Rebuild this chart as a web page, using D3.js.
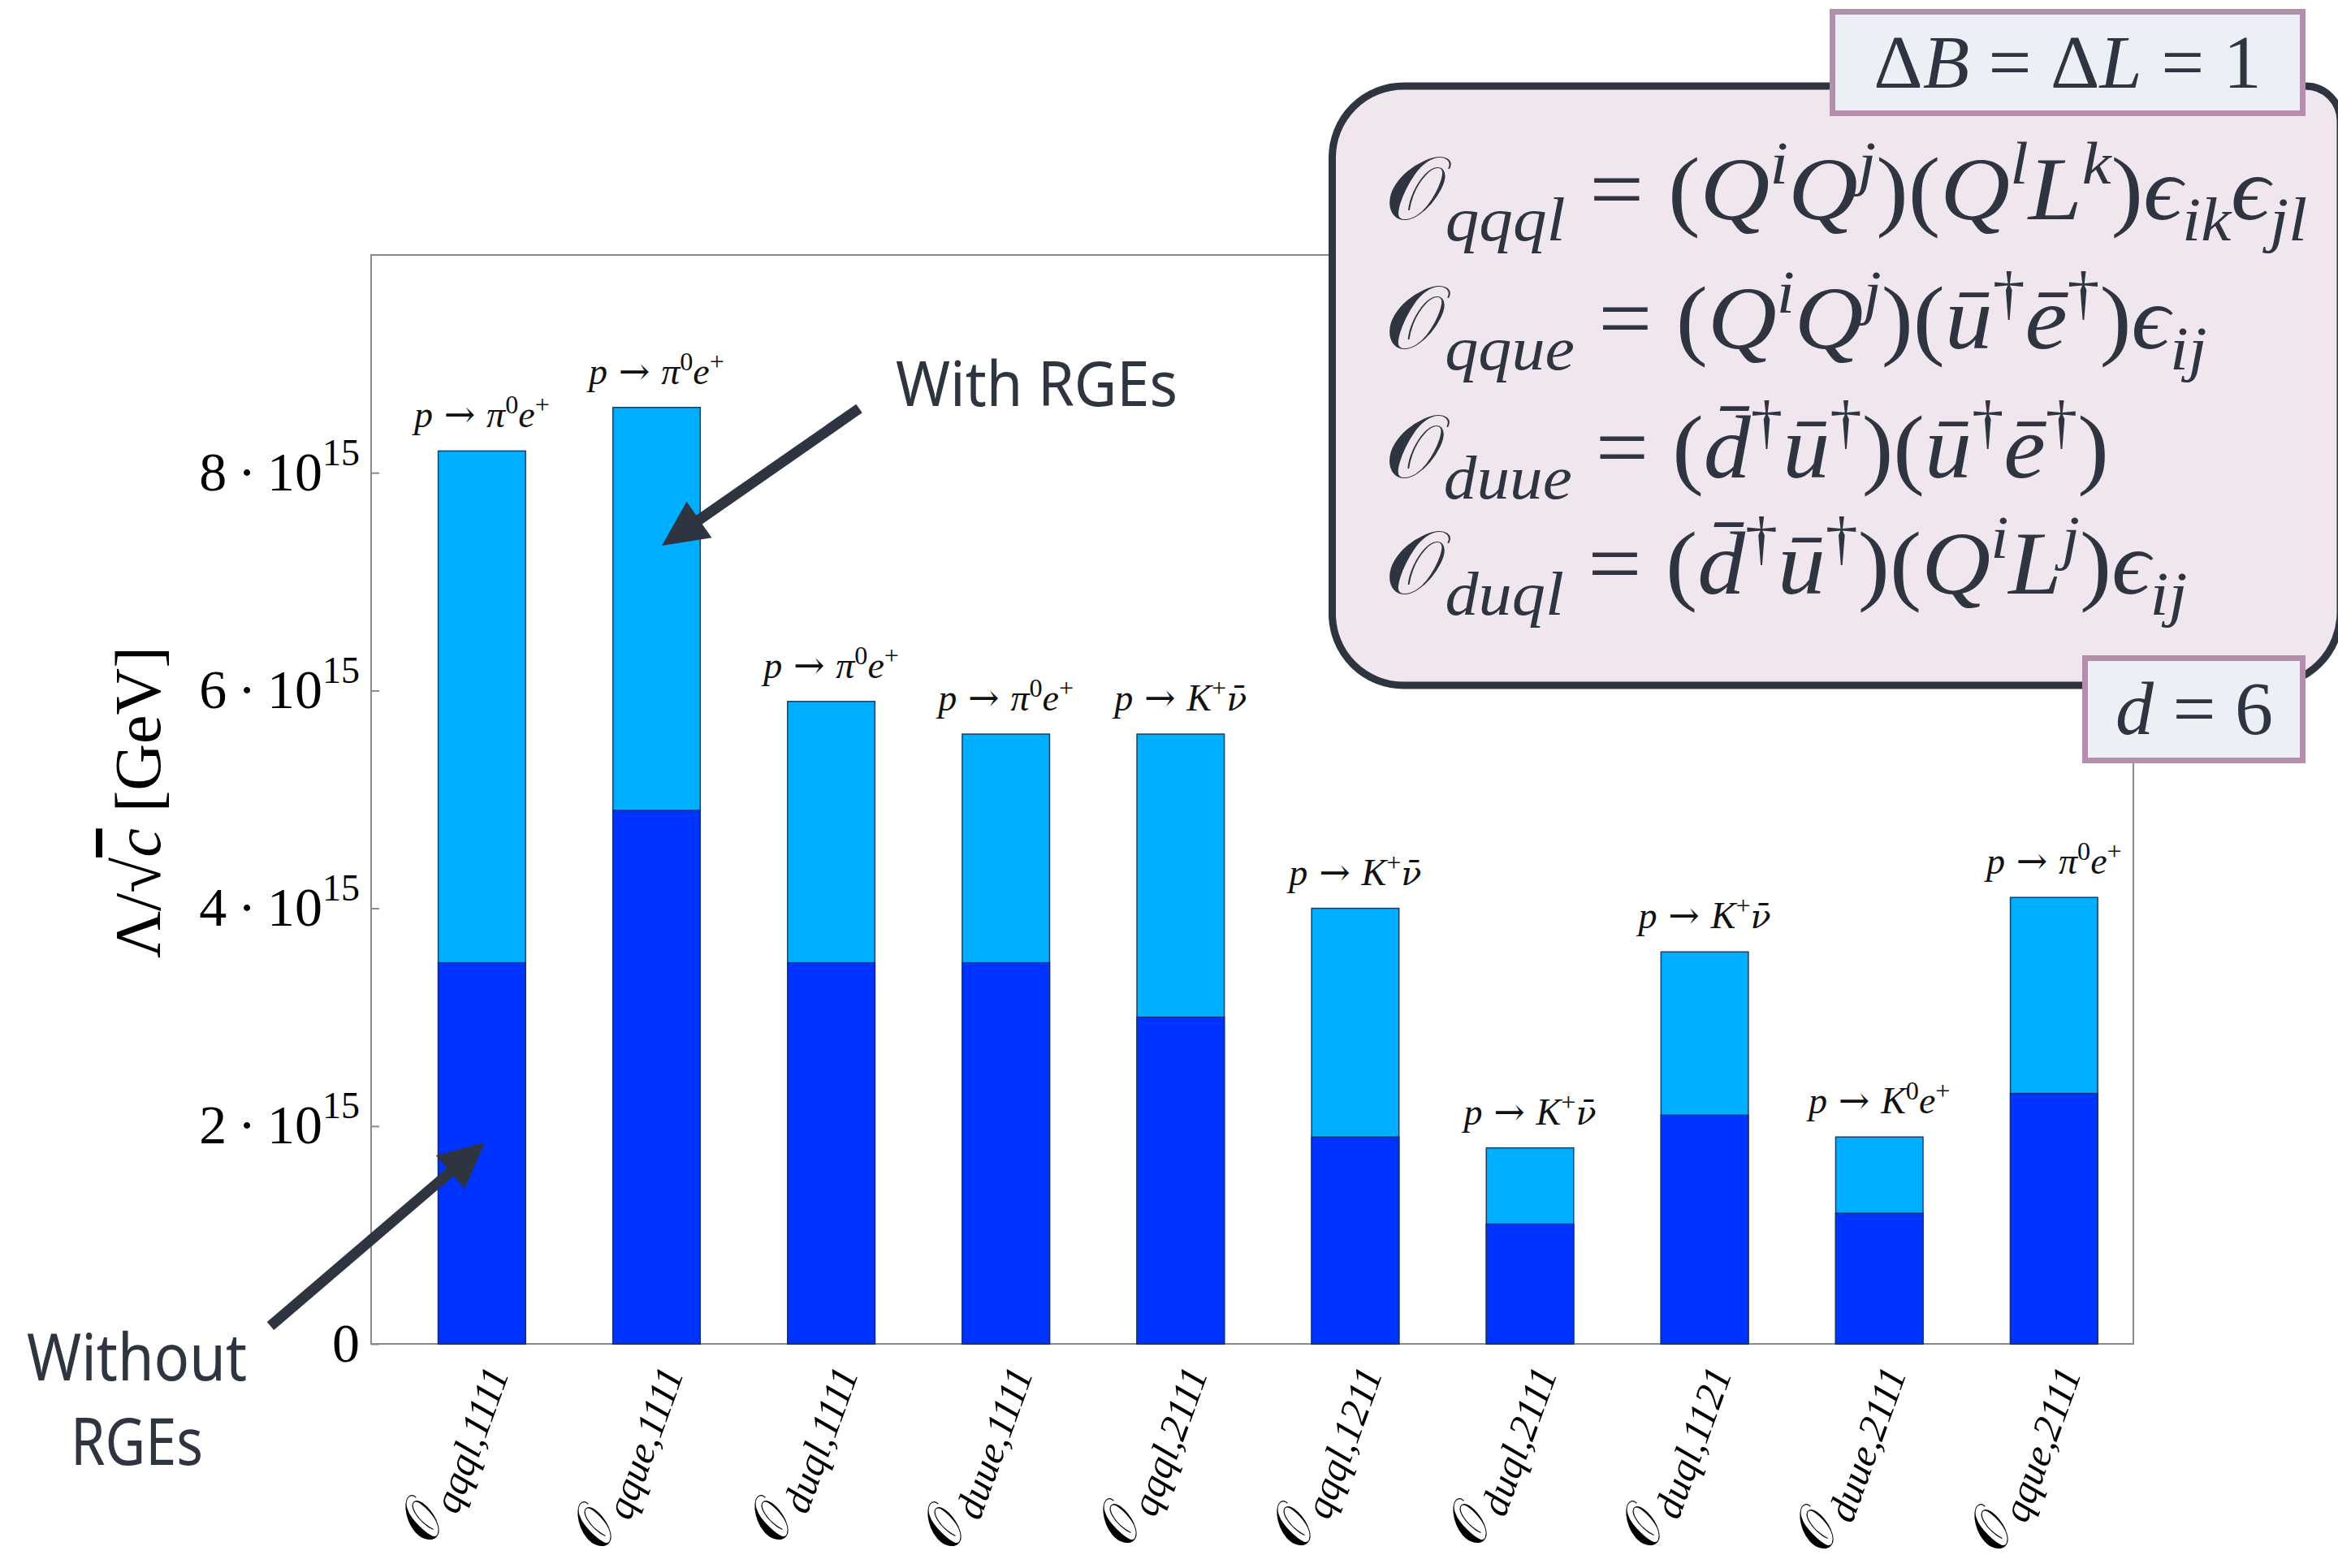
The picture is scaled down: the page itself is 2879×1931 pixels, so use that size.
<!DOCTYPE html>
<html>
<head>
<meta charset="utf-8">
<script src="https://cdn.jsdelivr.net/npm/d3@7"></script>
<style>
  html, body { margin: 0; padding: 0; background: #ffffff; }
  svg { display: block; }
</style>
</head>
<body>
<svg id="chart" width="2879" height="1931"></svg>
<script>
// ---- data (scale Λ/√c in units of 10^15 GeV) ----
const operators   = ["qqql,1111", "qque,1111", "duql,1111", "duue,1111", "qqql,2111",
                     "qqql,1211", "duql,2111", "duql,1121", "duue,2111", "qque,2111"];
const withRGEs    = [8.2, 8.6, 5.9, 5.6, 5.6, 4.0, 1.8, 3.6, 1.9, 4.1];
const withoutRGEs = [3.5, 4.9, 3.5, 3.5, 3.0, 1.9, 1.1, 2.1, 1.2, 2.3];
const channels    = ["pi0e", "pi0e", "pi0e", "pi0e", "Knu", "Knu", "Knu", "Knu", "K0e", "pi0e"];
const yTicks      = [0, 2, 4, 6, 8];
const tickExponent = "15";

// ---- styling ----
const W = 2879, H = 1931;
const serif = "'Liberation Serif', 'DejaVu Serif', serif";
const sans = "'Noto Sans', 'Open Sans', sans-serif";
const ink = "#2E3440";
const lightBlue = "#00AEFF";
const darkBlue = "#0033FF";
const frameGray = "#8a8a8a";

// decay-channel labels as rich-text segments
const channelText = {
  pi0e: [{t: "p", it: 1}, {t: "→", arrow: 1}, {t: "π", it: 1, gap: 1}, {t: "0", sup: 1}, {t: "e", it: 1}, {t: "+", sup: 1}],
  Knu:  [{t: "p", it: 1}, {t: "→", arrow: 1}, {t: "K", it: 1, gap: 1}, {t: "+", sup: 1}, {t: "ν\u0304", it: 1, dv: 1}],
  K0e:  [{t: "p", it: 1}, {t: "→", arrow: 1}, {t: "K", it: 1, gap: 1}, {t: "0", sup: 1}, {t: "e", it: 1}, {t: "+", sup: 1}]
};

// operator definitions shown in the side panel
const bar = "\u0304";
const eqLines = [
  [{t: "𝒪", o: 1}, {t: "qqql", sub: 1, it: 1}, {t: " = ("}, {t: "Q", it: 1}, {t: "i", sup: 1, it: 1}, {t: "Q", it: 1}, {t: "j", sup: 1, it: 1},
   {t: ")("}, {t: "Q", it: 1}, {t: "l", sup: 1, it: 1}, {t: "L", it: 1}, {t: "k", sup: 1, it: 1}, {t: ")"},
   {t: "ϵ", it: 1}, {t: "ik", sub: 1, it: 1}, {t: "ϵ", it: 1}, {t: "jl", sub: 1, it: 1}],
  [{t: "𝒪", o: 1}, {t: "qque", sub: 1, it: 1}, {t: " = ("}, {t: "Q", it: 1}, {t: "i", sup: 1, it: 1}, {t: "Q", it: 1}, {t: "j", sup: 1, it: 1},
   {t: ")("}, {t: "u" + bar, it: 1}, {t: "†", sup: 1}, {t: "e" + bar, it: 1}, {t: "†", sup: 1}, {t: ")"},
   {t: "ϵ", it: 1}, {t: "ij", sub: 1, it: 1}],
  [{t: "𝒪", o: 1}, {t: "duue", sub: 1, it: 1}, {t: " = ("}, {t: "d" + bar, it: 1}, {t: "†", sup: 1}, {t: "u" + bar, it: 1}, {t: "†", sup: 1},
   {t: ")("}, {t: "u" + bar, it: 1}, {t: "†", sup: 1}, {t: "e" + bar, it: 1}, {t: "†", sup: 1}, {t: ")"}],
  [{t: "𝒪", o: 1}, {t: "duql", sub: 1, it: 1}, {t: " = ("}, {t: "d" + bar, it: 1}, {t: "†", sup: 1}, {t: "u" + bar, it: 1}, {t: "†", sup: 1},
   {t: ")("}, {t: "Q", it: 1}, {t: "i", sup: 1, it: 1}, {t: "L", it: 1}, {t: "j", sup: 1, it: 1}, {t: ")"},
   {t: "ϵ", it: 1}, {t: "ij", sub: 1, it: 1}]
];

const svg = d3.select("#chart");
svg.append("rect").attr("width", W).attr("height", H).attr("fill", "#ffffff");

// ---- scales ----
const x = d3.scaleLinear().domain([0.366, 10.454]).range([457, 2627]);
const y = d3.scaleLinear().domain([0, 10]).range([1655, 314]);
const barW = x(1.25) - x(0.75);

// rich text helper: appends tspans with sub/superscript shifts
function richText(textSel, segs, size, opt = {}) {
  const supShift = opt.supShift ?? 0.38, subShift = opt.subShift ?? 0.22;
  const supScale = opt.supScale ?? 0.7, subScale = opt.subScale ?? 0.7;
  const relGap = opt.relGap ?? 0.3;
  let cur = 0;
  segs.forEach(s => {
    const target = s.sup ? -supShift * size : s.sub ? subShift * size : 0;
    const fs = s.sup ? supScale * size : s.sub ? subScale * size : size;
    const ts = textSel.append("tspan")
      .attr("dy", target - cur)
      .style("font-size", fs + "px")
      .style("font-style", s.it ? "italic" : "normal")
      .text(s.t);
    if (s.o || s.dv) ts.style("font-family", "'DejaVu Serif', serif");
    if (s.dv) ts.style("font-size", (0.9 * size) + "px");
    if (s.arrow) ts.style("font-family", "'DejaVu Serif', serif").attr("dx", relGap * size);
    if (s.gap) ts.attr("dx", relGap * size);
    cur = target;
  });
}

// ---- plot frame ----
svg.append("rect")
  .attr("x", x.range()[0]).attr("y", y.range()[1])
  .attr("width", x.range()[1] - x.range()[0]).attr("height", y.range()[0] - y.range()[1])
  .attr("fill", "none").attr("stroke", frameGray).attr("stroke-width", 2);

// ---- bars: with RGEs (behind) and without RGEs (front) ----
svg.append("g").selectAll("rect").data(withRGEs).join("rect")
  .attr("x", (d, i) => x(i + 1) - barW / 2)
  .attr("y", d => y(d))
  .attr("width", barW)
  .attr("height", d => y(0) - y(d))
  .attr("fill", lightBlue).attr("stroke", "#173f66").attr("stroke-width", 1.5);

svg.append("g").selectAll("rect").data(withoutRGEs).join("rect")
  .attr("x", (d, i) => x(i + 1) - barW / 2)
  .attr("y", d => y(d))
  .attr("width", barW)
  .attr("height", d => y(0) - y(d))
  .attr("fill", darkBlue).attr("stroke", "#10307a").attr("stroke-width", 1.5);

// ---- decay channel labels above bars ----
withRGEs.forEach((v, i) => {
  const t = svg.append("text")
    .attr("x", x(i + 1)).attr("y", y(v) - 29)
    .attr("text-anchor", "middle")
    .style("font-family", serif).style("fill", "#111");
  richText(t, channelText[channels[i]], 46, {supShift: 0.37, supScale: 0.7, relGap: 0.3});
});

// ---- y axis ----
const yAxis = d3.axisLeft(y).tickValues(yTicks).tickSize(-10).tickSizeOuter(0).tickPadding(14);
const gy = svg.append("g").attr("transform", `translate(${x.range()[0]},0)`).call(yAxis);
gy.select(".domain").remove();
gy.selectAll(".tick line").attr("stroke", frameGray).attr("stroke-width", 2);
gy.selectAll(".tick text")
  .style("font-family", serif).style("font-size", "68px").attr("fill", "#000")
  .attr("dy", "21px")
  .each(function(d) {
    const t = d3.select(this).text("");
    if (d === 0) { t.append("tspan").text("0"); return; }
    t.append("tspan").text(d + "\u2009·\u200910");
    t.append("tspan").attr("dy", "-31px").style("font-size", "46px").text(tickExponent);
  });

// y axis title
const yl = svg.append("text")
  .attr("transform", "translate(197,988) rotate(-90)")
  .attr("text-anchor", "middle")
  .style("font-family", serif).style("font-size", "80px").style("fill", "#000");
yl.append("tspan").text("Λ/√");
yl.append("tspan").style("font-style", "italic").style("text-decoration", "overline").text("c");
yl.append("tspan").text("  [GeV]");

// ---- operator labels on x axis ----
operators.forEach((op, i) => {
  const t = svg.append("text")
    .attr("transform", `translate(${x(i + 1) + 34},${y(0) + 36}) rotate(-70)`)
    .attr("text-anchor", "end")
    .style("font-family", serif).style("fill", "#000");
  t.append("tspan").attr("dy", -15).style("font-size", "72px").style("font-family", "'DejaVu Serif', serif").text("𝒪");
  t.append("tspan").attr("dy", 15).style("font-size", "49px").style("font-style", "italic").text(op);
});

// ---- operator panel ----
const panel = svg.append("g");
const pl = 1640.5, pt = 106, pr = 2882, pb = 844, rL = 88, rTR = 43, rBR = 90;
panel.append("path")
  .attr("d", `M${pl + rL},${pt} L${pr - rTR},${pt} A${rTR},${rTR} 0 0 1 ${pr},${pt + rTR}
              L${pr},${pb - rBR} A${rBR},${rBR} 0 0 1 ${pr - rBR},${pb}
              L${pl + rL},${pb} A${rL},${rL} 0 0 1 ${pl},${pb - rL}
              L${pl},${pt + rL} A${rL},${rL} 0 0 1 ${pl + rL},${pt} Z`)
  .attr("fill", "#F0E6EE").attr("stroke", ink).attr("stroke-width", 9);

const eqBaselines = [270, 429, 588, 731];
const eqEnds = [2841, 2717, 2597, 2693];
eqLines.forEach((segs, k) => {
  const g = panel.append("g");
  const t = g.append("text")
    .attr("x", 0).attr("y", 0)
    .style("font-family", serif).style("fill", ink);
  richText(t, segs, 110, {supShift: 0.4, subShift: 0.24, supScale: 0.68, subScale: 0.7});
  const bb = t.node().getBBox();
  const sx = (eqEnds[k] - 1705) / bb.width;
  g.attr("transform", `translate(${1705 - bb.x * sx},${eqBaselines[k]}) scale(${sx},1)`);
});

// ΔB = ΔL = 1 tag
panel.append("rect").attr("x", 2256.5).attr("y", 14.5).attr("width", 579).attr("height", 125)
  .attr("fill", "#ECEFF4").attr("stroke", "#B48EAD").attr("stroke-width", 7);
const tagTop = panel.append("text").attr("x", 2546).attr("y", 108).attr("text-anchor", "middle")
  .style("font-family", serif).style("fill", ink);
richText(tagTop, [{t: "Δ"}, {t: "B", it: 1}, {t: " = Δ"}, {t: "L", it: 1}, {t: " = 1"}], 94);

// d = 6 tag
panel.append("rect").attr("x", 2567.5).attr("y", 810.5).attr("width", 268).attr("height", 126)
  .attr("fill", "#ECEFF4").attr("stroke", "#B48EAD").attr("stroke-width", 7);
const tagBot = panel.append("text").attr("x", 2702).attr("y", 904).attr("text-anchor", "middle")
  .style("font-family", serif).style("fill", ink);
richText(tagBot, [{t: "d", it: 1}, {t: " = 6"}], 94);

// ---- annotations ----
function arrow(x1, y1, x2, y2, headLen = 56, headHalf = 27, width = 13) {
  const dx = x2 - x1, dy = y2 - y1, L = Math.hypot(dx, dy);
  const ux = dx / L, uy = dy / L, nx = -uy, ny = ux;
  const bx = x2 - ux * headLen, by = y2 - uy * headLen;
  svg.append("line").attr("x1", x1).attr("y1", y1).attr("x2", bx + ux * 4).attr("y2", by + uy * 4)
    .attr("stroke", ink).attr("stroke-width", width);
  svg.append("path")
    .attr("d", `M${x2},${y2} L${bx + nx * headHalf},${by + ny * headHalf} L${bx - nx * headHalf},${by - ny * headHalf} Z`)
    .attr("fill", ink);
}

svg.append("text").attr("x", 1103).attr("y", 500)
  .attr("textLength", 347).attr("lengthAdjust", "spacingAndGlyphs")
  .style("font-family", sans).style("font-size", "77px").style("fill", ink).text("With RGEs");
arrow(1058, 503, 815, 672);

svg.append("text").attr("x", 168.5).attr("y", 1700).attr("text-anchor", "middle")
  .attr("textLength", 271).attr("lengthAdjust", "spacingAndGlyphs")
  .style("font-family", sans).style("font-size", "80px").style("fill", ink).text("Without");
svg.append("text").attr("x", 168.5).attr("y", 1804).attr("text-anchor", "middle")
  .attr("textLength", 163).attr("lengthAdjust", "spacingAndGlyphs")
  .style("font-family", sans).style("font-size", "80px").style("fill", ink).text("RGEs");
arrow(333, 1633, 597, 1407);
</script>
</body>
</html>
